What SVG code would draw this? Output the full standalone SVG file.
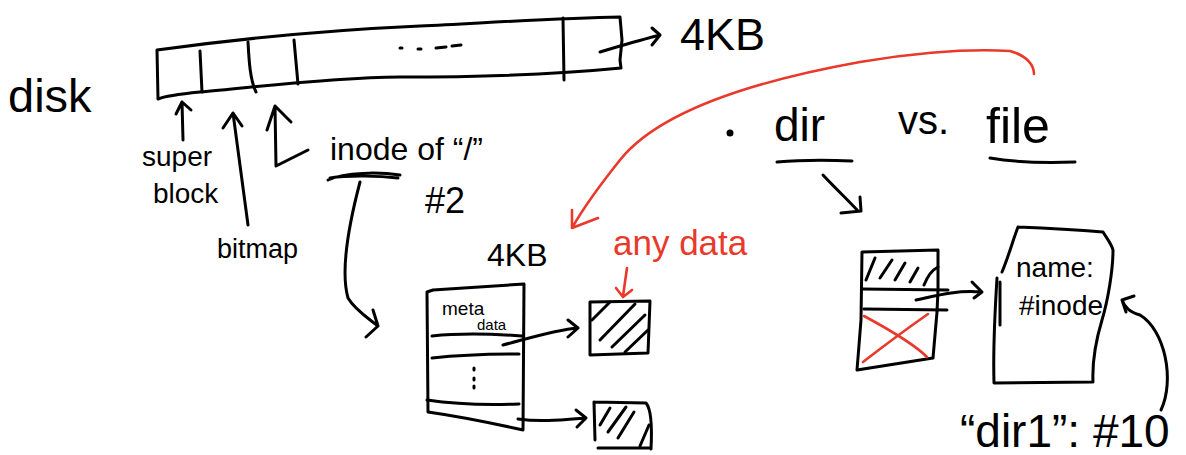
<svg xmlns="http://www.w3.org/2000/svg" width="1186" height="455" viewBox="0 0 1186 455">
  <style>
    .ink { fill: none; stroke: #000; stroke-width: 3; stroke-linecap: round; stroke-linejoin: round; }
    .red { fill: none; stroke: #e8392b; stroke-width: 2.6; stroke-linecap: round; stroke-linejoin: round; }
    .t { font-family: "Liberation Sans", "DejaVu Sans", sans-serif; fill: #000; }
    .tr { font-family: "Liberation Sans", "DejaVu Sans", sans-serif; fill: #e8392b; }
  </style>

  <rect width="1186" height="455" fill="#fff"/>

  <!-- disk strip -->
  <g id="disk">
    <text class="t" x="8" y="112" font-size="47">disk</text>
    <path class="ink" d="M157 50 C 230 40, 330 30, 420 26 C 500 22, 560 18, 620 17 L 622 40 L 620 60 L 621 68 C 560 74, 480 77, 400 77 C 320 78, 250 88, 200 92 C 180 94, 165 96, 158 99 Z"/>
    <path class="ink" d="M200 51 L 202 92"/>
    <path class="ink" d="M248 42 C 249 60, 250 80, 256 92"/>
    <path class="ink" d="M294 40 L 298 84"/>
    <path class="ink" d="M563 18 L 564 80"/>
    <path class="ink" d="M400 48 L 402 48 M 418 49 L 421 49 M 436 48 L 446 47 M 452 46 L 461 45"/>
    <path class="ink" d="M600 52 L 620 46 C 635 42, 648 38, 660 35 M 652 28 L 660 35 L 652 45"/>
    <text class="t" x="680" y="50" font-size="45">4KB</text>
  </g>

  <!-- disk region labels -->
  <g id="superblock">
    <path class="ink" d="M183 140 L 182 102 M 176 114 L 182 102 L 191 110"/>
    <text class="t" x="142" y="166" font-size="28">super</text>
    <text class="t" x="153" y="203" font-size="28">block</text>
  </g>
  <g id="bitmap">
    <path class="ink" d="M248 225 L 233 113 M 223 128 L 233 113 L 242 126"/>
    <text class="t" x="217" y="258" font-size="27">bitmap</text>
  </g>
  <g id="inode-root">
    <path class="ink" d="M308 150 L 276 166 L 275 106 M 267 130 L 275 106 L 291 122"/>
    <text class="t" x="330" y="160" font-size="32">inode of “/”</text>
    <path class="ink" d="M328 180 C 345 172, 380 172, 400 175 M 330 178 C 350 175, 380 176, 398 178"/>
    <text class="t" x="425" y="213" font-size="36">#2</text>
  </g>

  <!-- inode block with metadata and pointers -->
  <g id="inode-block">
    <text class="t" x="487" y="266" font-size="32">4KB</text>
    <path class="ink" d="M433 290 L 524 284 L 523 430 C 500 425, 470 418, 428 412 L 427 292 Z"/>
    <path class="ink" d="M432 336 C 460 333, 495 334, 522 336"/>
    <path class="ink" d="M432 358 C 460 355, 490 354, 519 354"/>
    <path class="ink" d="M427 400 C 460 405, 490 405, 519 404"/>
    <text class="t" x="442" y="315" font-size="19">meta</text>
    <text class="t" x="477" y="330" font-size="15">data</text>
    <path class="ink" d="M474 368 L 474 370 M 474 378 L 474 380 M 474 386 L 474 388"/>
  </g>

  <!-- data blocks -->
  <g id="data-block-1">
    <path class="ink" d="M590 302 L 650 301 L 648 353 L 590 355 Z"/>
    <path class="ink" d="M592 320 L 610 302 M 600 340 L 635 304 M 612 347 L 645 315 M 625 352 L 648 330"/>
    <text class="tr" x="613" y="255" font-size="35">any data</text>
    <path class="red" d="M627 268 L 623 296 M 616 288 L 623 297 L 632 290"/>
  </g>
  <g id="data-block-2">
    <path class="ink" d="M594 402 L 646 403 C 652 410, 652 430, 651 449 M 598 448 L 650 448 M 594 402 L 595 440"/>
    <path class="ink" d="M600 425 L 610 408 M 608 432 L 626 407 M 618 438 L 634 412 M 640 446 L 649 425"/>
  </g>

  <!-- connectors -->
  <g id="connectors">
    <path class="ink" d="M360 182 C 350 220, 340 270, 348 298 C 355 310, 368 318, 378 326 M 373 310 L 378 326 L 366 337"/>
    <path class="ink" d="M503 345 C 530 338, 555 330, 578 328 M 568 320 L 578 328 L 568 337"/>
    <path class="ink" d="M518 419 C 540 422, 560 420, 585 418 M 576 410 L 586 418 L 577 427"/>
    <path class="red" d="M1034 74 C 1034 66, 1028 56, 1010 51 C 960 48, 900 55, 860 62 C 760 80, 660 110, 620 160 C 600 185, 585 205, 572 228 M 572 210 L 572 228 L 598 218"/>
    <path class="ink" d="M823 175 C 835 188, 848 200, 858 211 M 860 197 L 861 211 L 841 213"/>
    <path class="ink" d="M916 300 C 935 296, 955 290, 981 292 M 972 282 L 982 292 L 974 298"/>
    <path class="ink" d="M1161 410 C 1175 380, 1165 330, 1140 315 C 1130 312, 1125 308, 1122 300 M 1122 300 L 1134 296 M 1122 300 L 1126 312"/>
  </g>

  <!-- dir vs. file heading -->
  <g id="heading">
    <circle cx="730" cy="133" r="3.5" fill="#000"/>
    <text class="t" x="774" y="141" font-size="46">dir</text>
    <path class="ink" d="M777 162 C 800 160, 830 160, 852 161"/>
    <text class="t" x="898" y="134" font-size="40">vs.</text>
    <text class="t" x="986" y="143" font-size="50">file</text>
    <path class="ink" d="M990 158 C 1020 163, 1050 163, 1075 162"/>
  </g>

  <!-- directory data block -->
  <g id="dir-block">
    <path class="ink" d="M862 252 L 938 250 L 938 290 L 937 312 L 933 358 L 857 370 L 861 320 Z"/>
    <path class="ink" d="M862 289 L 948 290"/>
    <path class="ink" d="M864 309 L 947 310"/>
    <path class="ink" d="M866 280 L 875 258 M 880 278 L 892 260 M 895 280 L 905 263 M 910 282 L 918 268 M 924 285 C 928 275, 932 270, 938 267"/>
    <path class="red" d="M864 316 C 890 330, 915 345, 927 357 M 928 314 C 905 330, 885 345, 863 362"/>
  </g>

  <!-- directory entry -->
  <g id="dir-entry">
    <path class="ink" d="M1018 227 C 1045 228, 1080 230, 1103 232 C 1108 240, 1112 245, 1113 250 C 1113 270, 1108 300, 1102 320 C 1096 340, 1092 360, 1093 382 L 994 383 C 993 350, 995 310, 997 278 M 1002 272 C 1008 258, 1013 240, 1018 227 M 1000 282 L 1000 325"/>
    <text class="t" x="1016" y="277" font-size="28">name:</text>
    <text class="t" x="1019" y="315" font-size="28">#inode</text>
    <text class="t" x="960" y="447" font-size="46">“dir1”: #10</text>
  </g>
</svg>
